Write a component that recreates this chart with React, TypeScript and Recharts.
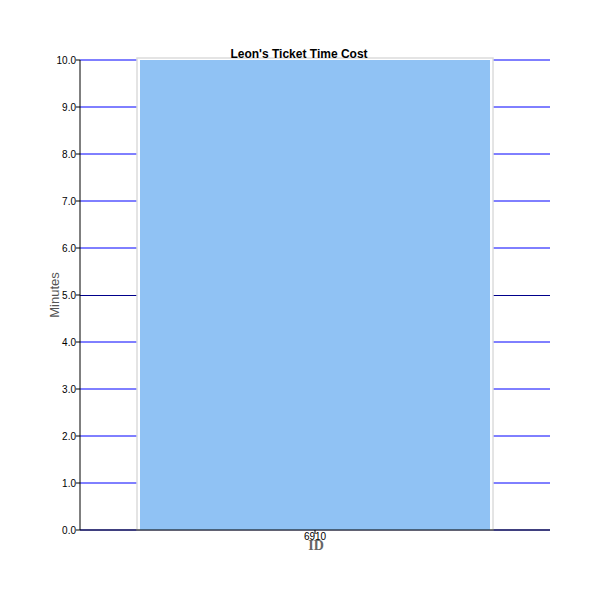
import React from 'react';
import { BarChart, Bar, XAxis, YAxis, CartesianGrid } from 'recharts';

const ids = ['6910'];
const minutes = [10];
const yTicks = [0, 1, 2, 3, 4, 5, 6, 7, 8, 9, 10];

const data = ids.map((id, i) => ({ id, minutes: minutes[i] }));

const BarShape = (props: any) => {
  const { x, y, width, height } = props;
  return (
    <g>
      <rect x={x - 3} y={y - 2} width={width + 6} height={height + 2} fill="#ffffff" stroke="#dcdcdc" strokeWidth={1.5} />
      <rect x={x} y={y} width={width} height={height} fill="#90c2f4" />
    </g>
  );
};

const GridLine = (props: any) => {
  const { x1, y1, x2, y2, index, key } = props;
  const mid = index === 5;
  return (
    <line
      key={key}
      x1={x1}
      y1={mid ? y1 + 0.5 : y1}
      x2={x2}
      y2={mid ? y2 + 0.5 : y2}
      stroke={mid ? '#00008b' : '#0000ff'}
      strokeWidth={1}
    />
  );
};

const YLabel = ({ viewBox }: any) => {
  const cx = 59;
  const cy = viewBox.y + viewBox.height / 2;
  return (
    <text
      x={cx}
      y={cy}
      transform={`rotate(-90, ${cx}, ${cy})`}
      textAnchor="middle"
      fill="#555555"
      fontSize={13}
      fontFamily="Liberation Sans, Arial, sans-serif"
    >
      Minutes
    </text>
  );
};

const XLabel = ({ viewBox }: any) => {
  const cx = viewBox.x + viewBox.width / 2 + 1;
  return (
    <text
      x={cx}
      y={550}
      textAnchor="middle"
      fill="#666666"
      fontSize={14}
      fontWeight="bold"
      fontFamily="Liberation Serif, Times New Roman, serif"
    >
      ID
    </text>
  );
};

export default function App() {
  return (
    <div style={{ position: 'absolute', left: 0, top: 0, width: 600, height: 600 }}>
      <div
        style={{
          position: 'absolute',
          left: 0,
          top: 47,
          width: 598,
          textAlign: 'center',
          fontFamily: 'Liberation Sans, Arial, sans-serif',
          fontWeight: 'bold',
          fontSize: 12,
          lineHeight: '14px',
          color: '#000',
          zIndex: 2,
        }}
      >
        Leon's Ticket Time Cost
      </div>
      <BarChart
        width={600}
        height={600}
        data={data}
        margin={{ top: 60, right: 50, left: 0, bottom: 0 }}
        barCategoryGap={60}
      >
        <CartesianGrid vertical={false} horizontal={GridLine} />
        <XAxis
          dataKey="id"
          height={70}
          stroke="#000000"
          tickSize={4}
          tickMargin={-1}
          tick={{ fill: '#000', fontSize: 10, fontFamily: 'Liberation Sans, Arial, sans-serif' }}
          label={{ content: XLabel }}
        />
        <YAxis
          width={80}
          domain={[0, 10]}
          ticks={yTicks}
          interval={0}
          stroke="#000000"
          tickSize={4}
          tickMargin={0}
          tickFormatter={(v: number) => v.toFixed(1)}
          tick={{ fill: '#000', fontSize: 10, fontFamily: 'Liberation Sans, Arial, sans-serif' }}
          label={{ content: YLabel }}
        />
        <Bar dataKey="minutes" shape={BarShape} isAnimationActive={false} />
      </BarChart>
    </div>
  );
}
